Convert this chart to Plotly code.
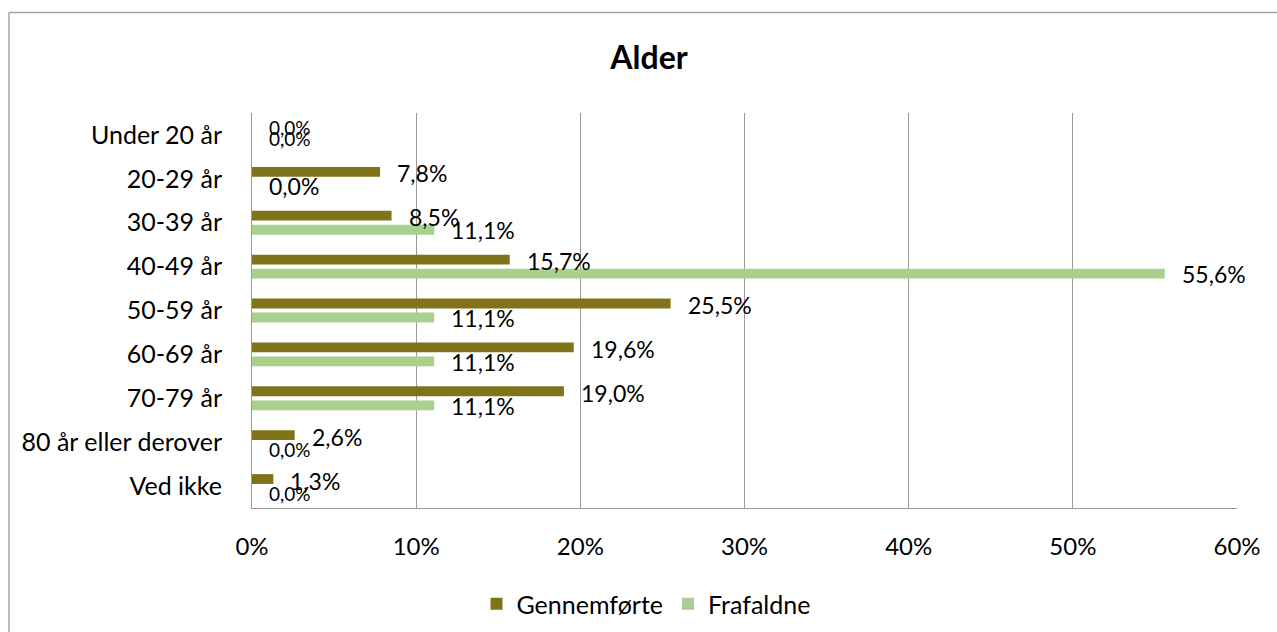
import plotly.graph_objects as go

categories = ["Under 20 år", "20-29 år", "30-39 år", "40-49 år", "50-59 år",
              "60-69 år", "70-79 år", "80 år eller derover", "Ved ikke"]
gennemforte = [0.0, 7.8, 8.5, 15.7, 25.5, 19.6, 19.0, 2.6, 1.3]
frafaldne = [0.0, 0.0, 11.1, 55.6, 11.1, 11.1, 11.1, 0.0, 0.0]
x_ticks = [0, 10, 20, 30, 40, 50, 60]
x_tick_labels = ["0%", "10%", "20%", "30%", "40%", "50%", "60%"]

C_G = "#7F7419"
C_F = "#A9D18E"
FONT = "Lato"

fig = go.Figure()
fig.add_trace(go.Bar(name="Gennemførte", y=categories, x=gennemforte,
                     orientation="h", marker=dict(color=C_G, line=dict(width=0))))
fig.add_trace(go.Bar(name="Frafaldne", y=categories, x=frafaldne,
                     orientation="h", marker=dict(color=C_F, line=dict(width=0))))

def fmt(v):
    return f"{v:.1f}".replace(".", ",") + "%"

# label style (small font where the reference shrinks labels)
small_g = {0}
small_f = {0, 7, 8}
annotations = []
for i, (cat, g, f) in enumerate(zip(categories, gennemforte, frafaldne)):
    g_small = i in small_g
    f_small = i in small_f
    annotations.append(dict(x=g, y=cat, text=fmt(g), xanchor="left", yanchor="middle",
                            showarrow=False, xshift=15, yshift=7 if g_small else 5.5,
                            font=dict(family=FONT, size=19 if g_small else 23, color="#000")))
    annotations.append(dict(x=f, y=cat, text=fmt(f), xanchor="left", yanchor="middle",
                            showarrow=False, xshift=15,
                            yshift=(-4 if i == 0 else -7) if f_small else -7.5,
                            font=dict(family=FONT, size=19 if f_small else 23, color="#000")))

L, R, T, B = 252, 40, 113, 124
W, H = 1277, 632
pw, ph = W - L - R, H - T - B
fx = lambda px: (px - L) / pw
fy = lambda py: 1 - (py - T) / ph

shapes = [
    dict(type="line", xref="paper", yref="paper", x0=fx(9), x1=fx(9), y0=fy(12.5), y1=fy(660),
         line=dict(color="#A6A6A6", width=1.5)),
    dict(type="line", xref="paper", yref="paper", x0=fx(9), x1=fx(1300), y0=fy(12.5), y1=fy(12.5),
         line=dict(color="#A6A6A6", width=1.5)),
]

fig.update_layout(
    width=W, height=H,
    margin=dict(l=L, r=R, t=T, b=B, autoexpand=False),
    paper_bgcolor="white", plot_bgcolor="white",
    barmode="group", bargap=0.36, bargroupgap=0.3,
    title=dict(text="<b>Alder</b>", x=649 / W, xref="container", xanchor="center",
               y=1 - 58 / H, yref="container", yanchor="middle",
               font=dict(family=FONT, size=32, color="#000")),
    font=dict(family=FONT, color="#000"),
    showlegend=True,
    legend=dict(orientation="h", xref="container", yref="container",
                x=646 / W, xanchor="center", y=1 - 604 / H, yanchor="middle",
                font=dict(family=FONT, size=25, color="#000"),
                traceorder="normal", itemwidth=30),
    annotations=annotations,
    shapes=shapes,
)
fig.update_xaxes(range=[0, 60], tickvals=x_ticks, ticktext=x_tick_labels,
                 showgrid=True, gridcolor="#999999", gridwidth=1,
                 showline=True, linecolor="#999999", linewidth=1,
                 zeroline=False, ticks="", ticklabelstandoff=17,
                 tickfont=dict(family=FONT, size=24, color="#000"))
fig.update_yaxes(autorange="reversed", showgrid=False, showline=True,
                 linecolor="#999999", linewidth=1, ticks="", ticklabelstandoff=24,
                 tickfont=dict(family=FONT, size=25, color="#000"))

fig.write_html("out.html", config={"displayModeBar": False})

with open("out.html", "r", encoding="utf-8") as fh:
    html = fh.read()
html = html.replace("<head>", "<head><style>html,body{margin:0;padding:0;overflow:hidden}</style>", 1)
with open("out.html", "w", encoding="utf-8") as fh:
    fh.write(html)
